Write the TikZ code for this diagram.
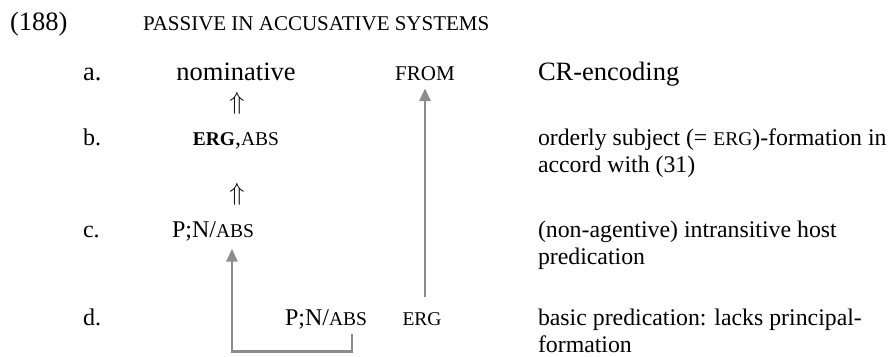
\documentclass[tikz,border=0pt]{standalone}
\usepackage{fontspec}
\setmainfont{Liberation Serif}
\usetikzlibrary{arrows.meta,calc}
\definecolor{arrowgray}{RGB}{140,140,140}
\newcommand\smc[1]{{\fontsize{19.5}{22}\selectfont #1}}
\newcommand\smcA[1]{{\fontsize{21}{23}\selectfont #1}}
\begin{document}
\begin{tikzpicture}[x=1pt,y=-1pt,
  every node/.style={inner sep=0pt,outer sep=0pt},
  txt/.style={font=\fontsize{24}{27}\selectfont,anchor=base west},
  rtxt/.style={font=\fontsize{23.8}{27}\selectfont,anchor=base west},
  txtA/.style={font=\fontsize{26.5}{29}\selectfont,anchor=base west},
  ctr/.style={anchor=base},
  dbl/.style={font=\fontsize{31}{33}\selectfont},
  conn/.style={draw=arrowgray,line width=2.8pt,-{Triangle[length=13pt,width=11pt]}}]
\path[use as bounding box] (0,0) rectangle (891,356);
% heading
\node[txtA] (num) at (10,30) {(188)};
\node[txt] (title) at (143,30) {\smcA{PASSIVE IN ACCUSATIVE SYSTEMS}};
% row a
\node[txtA] (la) at (83,80) {a.};
\node[txtA,ctr] (nom) at (236,80) {nominative};
\node[txtA,ctr] (from) at (425,80) {\smcA{FROM}};
\node[txtA] (ra) at (538,80) {CR-encoding};
\node[dbl] (up1) at (237,103) {$\Uparrow$};
% row b
\node[txt] (lb) at (83,145) {b.};
\node[txt,ctr] (ergabs) at (236,145) {\textbf{\smc{ERG}},\smc{ABS}};
\node[rtxt] (rb1) at (538,145) {orderly subject (= \smc{ERG})-formation in};
\node[rtxt] (rb2) at (538,172) {accord with (31)};
\node[dbl] (up2) at (237,194) {$\Uparrow$};
% row c
\node[txt] (lc) at (83,237) {c.};
\node[txt] (pnc) at (172,237) {P;N/\smc{ABS}};
\node[rtxt] (rc1) at (538,237) {(non-agentive) intransitive host};
\node[rtxt] (rc2) at (538,264) {predication};
% row d
\node[txt] (ld) at (83,325) {d.};
\node[txt] (pnd) at (285,325) {P;N/\smc{ABS}};
\node[txt,ctr] (ergd) at (422,325) {\smc{ERG}};
\node[rtxt] (rd1) at (538,325) {basic predication: lacks principal-};
\node[rtxt] (rd2) at (538,352) {formation};
% connectors
\coordinate (brs) at ($(pnd.south)+(26,5)$);
\coordinate (brt) at ($(pnc.south)+(19,8)$);
\draw[conn] (brs) -- ++(0,18) -| (brt);
\draw[conn] ($(from.south |- ergd.north)+(0,-15)$) -- ($(from.south)+(0,8)$);
\end{tikzpicture}
\end{document}
